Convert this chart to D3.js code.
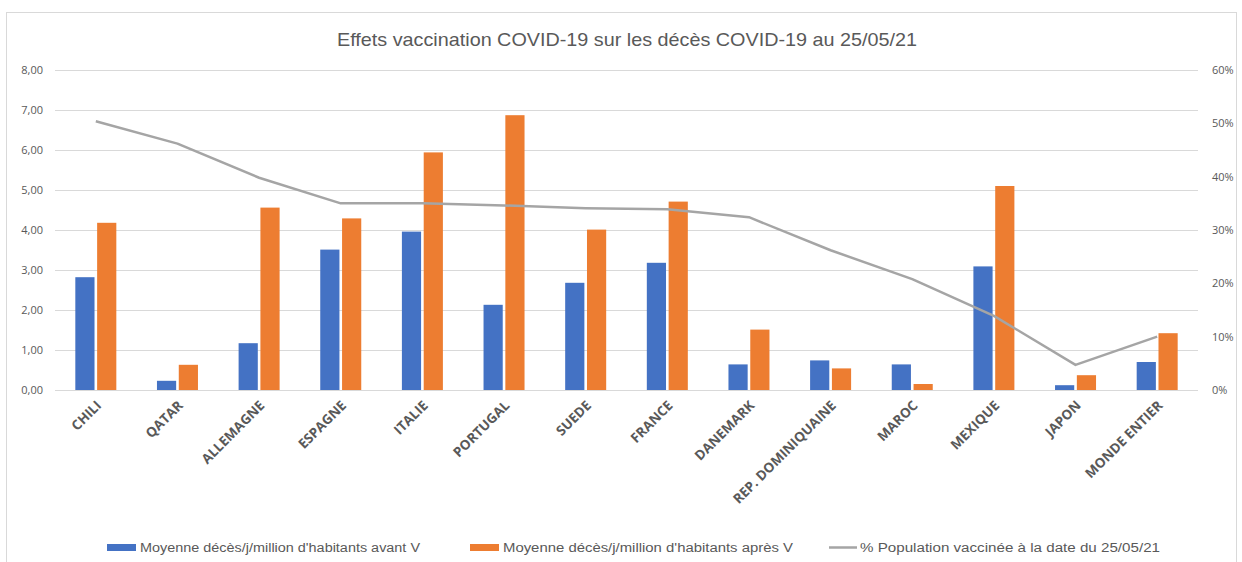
<!DOCTYPE html>
<html>
<head>
<meta charset="utf-8">
<script src="https://cdn.jsdelivr.net/npm/d3@7"></script>
<style>
  body { margin: 0; background: #fff; }
  svg { display: block; font-family: "Liberation Sans Narrow", "Liberation Sans", Arial, sans-serif; }
</style>
</head>
<body>
<div id="chart"></div>
<script>
// Données
const pays = ["CHILI", "QATAR", "ALLEMAGNE", "ESPAGNE", "ITALIE", "PORTUGAL", "SUEDE", "FRANCE",
              "DANEMARK", "REP. DOMINIQUAINE", "MAROC", "MEXIQUE", "JAPON", "MONDE ENTIER"];
const decesAvant = [2.82, 0.23, 1.17, 3.51, 3.96, 2.13, 2.68, 3.18, 0.64, 0.74, 0.64, 3.09, 0.12, 0.70];
const decesApres = [4.18, 0.63, 4.56, 4.29, 5.94, 6.87, 4.01, 4.71, 1.51, 0.54, 0.15, 5.10, 0.37, 1.42];
const pctVaccines = [0.504, 0.462, 0.398, 0.350, 0.350, 0.346, 0.341, 0.339, 0.324, 0.262, 0.208, 0.139, 0.047, 0.100];
const ticksGauche = [0, 1, 2, 3, 4, 5, 6, 7, 8];
const ticksDroite = [0, 0.1, 0.2, 0.3, 0.4, 0.5, 0.6];

const titre = "Effets vaccination COVID-19 sur les décès COVID-19 au 25/05/21";
const legendes = [
  "Moyenne décès/j/million d'habitants avant V",
  "Moyenne décès/j/million d'habitants après V",
  "% Population vaccinée à la date du 25/05/21"
];

const W = 1242, H = 562;
const margin = { top: 70, right: 44, bottom: 172, left: 55 };
const width = W - margin.left - margin.right;
const height = H - margin.top - margin.bottom;

const BLEU = "#4472c4", ORANGE = "#ed7d31", GRIS = "#a5a5a5", TEXTE = "#595959";

const svg = d3.select("#chart").append("svg").attr("width", W).attr("height", H);

// Cadre du graphique
svg.append("rect").attr("x", 6.5).attr("y", 12.5).attr("width", 1230).attr("height", 560)
  .attr("fill", "#fff").attr("stroke", "#d9d9d9");

svg.append("text").attr("x", 627).attr("y", 46).attr("text-anchor", "middle")
  .attr("fill", TEXTE).style("font-size", "19px")
  .attr("textLength", 580).attr("lengthAdjust", "spacingAndGlyphs")
  .text(titre);

const g = svg.append("g").attr("transform", `translate(${margin.left},${margin.top})`);

// Echelles
const x0 = d3.scaleBand().domain(pays).range([0, width]);
const x1 = d3.scaleBand().domain(["avant", "apres"]).range([0, 41]).paddingInner(0.12);
const yG = d3.scaleLinear().domain([0, 8]).range([height, 0]);
const yD = d3.scaleLinear().domain([0, 0.6]).range([height, 0]);

// Grille
g.append("g").selectAll("line").data(ticksGauche).join("line")
  .attr("x1", 0).attr("x2", width)
  .attr("y1", d => Math.round(yG(d)) + 0.5).attr("y2", d => Math.round(yG(d)) + 0.5)
  .attr("stroke", "#d9d9d9");

// Axes
const axeG = g.append("g").call(d3.axisLeft(yG).tickValues(ticksGauche).tickSize(0).tickPadding(12)
  .tickFormat(d => d3.format(".2f")(d).replace(".", ",")));
const axeD = g.append("g").attr("transform", `translate(${width},0)`)
  .call(d3.axisRight(yD).tickValues(ticksDroite).tickSize(0).tickPadding(14).tickFormat(d3.format(".0%")));
[axeG, axeD].forEach(a => {
  a.select(".domain").remove();
  a.selectAll("text").attr("fill", TEXTE).style("font-size", "11px")
    .style("font-family", "'Open Sans', sans-serif");
});

// Barres
const groupes = g.append("g").selectAll("g").data(pays).join("g")
  .attr("transform", d => `translate(${x0(d) + (x0.bandwidth() - 41) / 2},0)`);
groupes.append("rect")
  .attr("x", x1("avant")).attr("width", x1.bandwidth())
  .attr("y", (d, i) => yG(decesAvant[i])).attr("height", (d, i) => height - yG(decesAvant[i]))
  .attr("fill", BLEU);
groupes.append("rect")
  .attr("x", x1("apres")).attr("width", x1.bandwidth())
  .attr("y", (d, i) => yG(decesApres[i])).attr("height", (d, i) => height - yG(decesApres[i]))
  .attr("fill", ORANGE);

// Courbe % vaccinés
const ligne = d3.line().x((d, i) => x0(pays[i]) + x0.bandwidth() / 2).y(d => yD(d));
g.append("path").datum(pctVaccines).attr("d", ligne)
  .attr("fill", "none").attr("stroke", GRIS).attr("stroke-width", 2.5).attr("stroke-linejoin", "round");

// Etiquettes des pays
g.append("g").selectAll("text").data(pays).join("text")
  .attr("transform", d => `translate(${x0(d) + x0.bandwidth() / 2 + 3},${height + 13}) rotate(-45)`)
  .attr("text-anchor", "end").attr("dy", "0.35em")
  .attr("fill", TEXTE).style("font-size", "13.5px").style("font-weight", "bold")
  .style("font-family", "'Open Sans', sans-serif")
  .text(d => d);

// Légende
const leg = svg.append("g");
const posLeg = [
  { sx: 107, tx: 140, tl: 280, type: "rect", c: BLEU },
  { sx: 470, tx: 503, tl: 290, type: "rect", c: ORANGE },
  { sx: 829, tx: 860, tl: 300, type: "line", c: GRIS }
];
legendes.forEach((t, i) => {
  const p = posLeg[i];
  if (p.type === "rect") {
    leg.append("rect").attr("x", p.sx).attr("y", 544).attr("width", 29).attr("height", 7).attr("fill", p.c);
  } else {
    leg.append("line").attr("x1", p.sx).attr("x2", p.sx + 28).attr("y1", 547.5).attr("y2", 547.5)
      .attr("stroke", p.c).attr("stroke-width", 2.5);
  }
  leg.append("text").attr("x", p.tx).attr("y", 551.5).attr("fill", TEXTE).style("font-size", "12px")
    .attr("textLength", p.tl).attr("lengthAdjust", "spacingAndGlyphs").text(t);
});
</script>
</body>
</html>
